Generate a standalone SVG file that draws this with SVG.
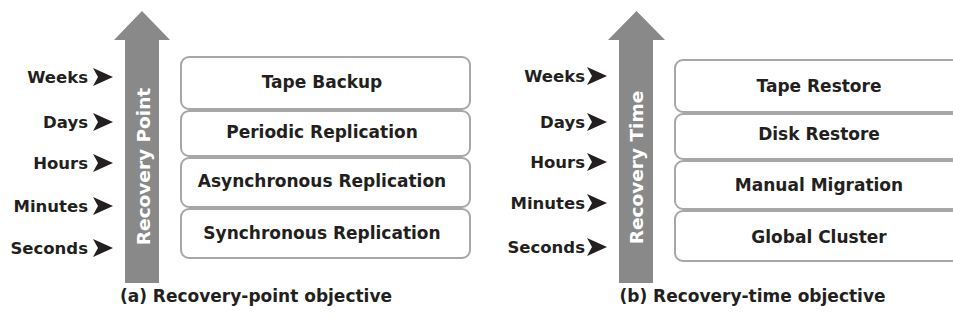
<svg xmlns="http://www.w3.org/2000/svg" width="953" height="320" viewBox="0 0 953 320">
<style>
.bg{fill:#ffffff}
.shaft{fill:#898989}
.box{fill:#ffffff;stroke:#a7a7a7;stroke-width:2}
.t{font-family:"DejaVu Sans",Verdana,sans-serif;font-weight:bold;font-size:16.5px;fill:#231f20}
.bt{text-anchor:middle;font-size:17px}
.lab{text-anchor:end}
.ax{font-family:"DejaVu Sans",Verdana,sans-serif;font-weight:bold;font-size:18.5px;fill:#ffffff;text-anchor:middle}
.cap{font-family:"DejaVu Sans",Verdana,sans-serif;font-weight:bold;font-size:17px;fill:#231f20;text-anchor:middle}
.tick{fill:#231f20}
</style>
<defs>
<polygon id="tk" points="0,-9 20,0 0,9 5,0"/>
</defs>
<rect class="bg" x="0" y="0" width="953" height="320"/>

<g id="axis-a">
<polygon class="shaft" points="125,283 125,40 114,40 142,11 170,40 159,40 159,283"/>
<text class="ax" transform="translate(150,166.5) rotate(-90)">Recovery Point</text>
</g>

<g id="scale-a">
<text class="t lab" x="88" y="83">Weeks</text>
<text class="t lab" x="88" y="128">Days</text>
<text class="t lab" x="88" y="169">Hours</text>
<text class="t lab" x="88" y="212">Minutes</text>
<text class="t lab" x="88" y="254">Seconds</text>
<use href="#tk" class="tick" x="93" y="77"/>
<use href="#tk" class="tick" x="93" y="122"/>
<use href="#tk" class="tick" x="93" y="163"/>
<use href="#tk" class="tick" x="93" y="206"/>
<use href="#tk" class="tick" x="93" y="248"/>
</g>

<g id="tape-backup">
<rect class="box" x="181" y="57" width="289" height="52" rx="8"/>
<text class="t bt" x="322" y="88">Tape Backup</text>
</g>
<g id="periodic-replication">
<rect class="box" x="181" y="111" width="289" height="45" rx="8"/>
<text class="t bt" x="322" y="138">Periodic Replication</text>
</g>
<g id="asynchronous-replication">
<rect class="box" x="181" y="158" width="289" height="49" rx="8"/>
<text class="t bt" x="322" y="187">Asynchronous Replication</text>
</g>
<g id="synchronous-replication">
<rect class="box" x="181" y="209" width="289" height="49" rx="8"/>
<text class="t bt" x="322" y="239">Synchronous Replication</text>
</g>

<text class="cap" x="256" y="302">(a) Recovery-point objective</text>

<g id="axis-b">
<polygon class="shaft" points="619,283 619,40 608,40 636.5,11 665,40 653,40 653,283"/>
<text class="ax" transform="translate(643,167.5) rotate(-90)">Recovery Time</text>
</g>

<g id="scale-b">
<text class="t lab" x="585" y="82">Weeks</text>
<text class="t lab" x="585" y="128">Days</text>
<text class="t lab" x="585" y="168">Hours</text>
<text class="t lab" x="585" y="209">Minutes</text>
<text class="t lab" x="585" y="253">Seconds</text>
<use href="#tk" class="tick" x="587" y="76"/>
<use href="#tk" class="tick" x="587" y="122"/>
<use href="#tk" class="tick" x="587" y="162"/>
<use href="#tk" class="tick" x="587" y="203"/>
<use href="#tk" class="tick" x="587" y="247"/>
</g>

<g id="tape-restore">
<rect class="box" x="675" y="60" width="290" height="52" rx="8"/>
<text class="t bt" x="819" y="92">Tape Restore</text>
</g>
<g id="disk-restore">
<rect class="box" x="675" y="114" width="290" height="45" rx="8"/>
<text class="t bt" x="819" y="140">Disk Restore</text>
</g>
<g id="manual-migration">
<rect class="box" x="675" y="161" width="290" height="48" rx="8"/>
<text class="t bt" x="819" y="191">Manual Migration</text>
</g>
<g id="global-cluster">
<rect class="box" x="675" y="211" width="290" height="50" rx="8"/>
<text class="t bt" x="819" y="243">Global Cluster</text>
</g>

<text class="cap" x="752.5" y="302">(b) Recovery-time objective</text>

<g id="connectors"></g>
</svg>
